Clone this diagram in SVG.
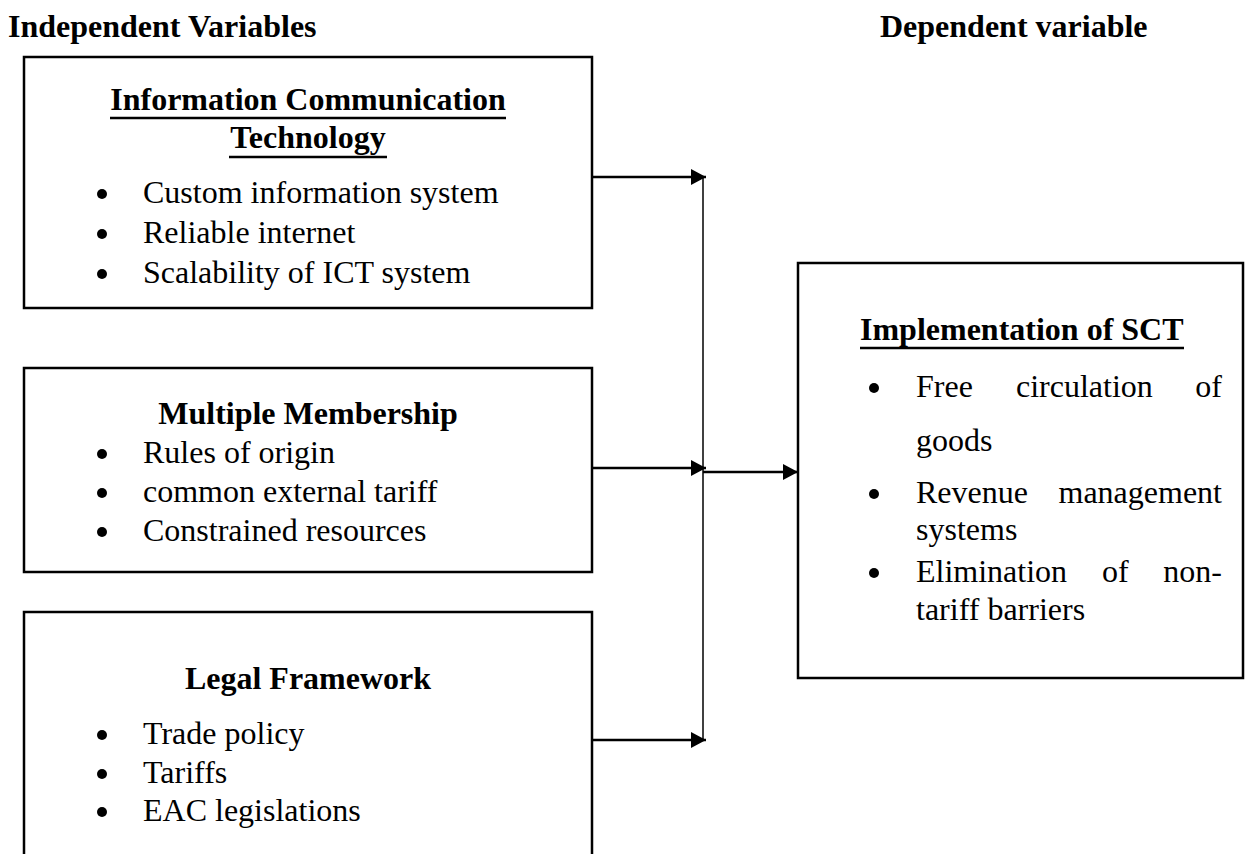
<svg xmlns="http://www.w3.org/2000/svg" width="1246" height="854" viewBox="0 0 1246 854">
<style>
.box{fill:none;stroke:#000;stroke-width:2.5}
.t{font-family:"Liberation Serif","Times New Roman",serif;font-size:32px;fill:#000}
.b{font-weight:bold}
.ul{stroke:#000;stroke-width:2.5}
.dot{fill:#000}
.con{stroke:#000;stroke-width:2.5;fill:none}
.vert{stroke:#000;stroke-width:1.5;fill:none}
</style>
<defs>
<marker id="ah" markerUnits="userSpaceOnUse" markerWidth="18" markerHeight="18" refX="15" refY="8" orient="auto">
<path d="M0,0 L15,8 L0,16 z" fill="#000"/>
</marker>
</defs>
<rect width="1246" height="854" fill="#fff"/>
<g id="titles">
<text class="t b" x="8" y="37">Independent Variables</text>
<text class="t b" x="880" y="37">Dependent variable</text>
</g>
<g id="ict">
<rect class="box" x="24" y="57" width="568" height="251"/>
<text class="t b" x="308" y="110" text-anchor="middle">Information Communication</text>
<line class="ul" x1="110" y1="118" x2="506" y2="118"/>
<text class="t b" x="308" y="148" text-anchor="middle">Technology</text>
<line class="ul" x1="229" y1="157" x2="387" y2="157"/>
<circle class="dot" cx="102" cy="194" r="5"/>
<circle class="dot" cx="102" cy="234" r="5"/>
<circle class="dot" cx="102" cy="274" r="5"/>
<text class="t" x="143" y="203">Custom information system</text>
<text class="t" x="143" y="243">Reliable internet</text>
<text class="t" x="143" y="283">Scalability of ICT system</text>
</g>
<g id="membership">
<rect class="box" x="24" y="368" width="568" height="204"/>
<text class="t b" x="308" y="424" text-anchor="middle">Multiple Membership</text>
<circle class="dot" cx="102" cy="454" r="5"/>
<circle class="dot" cx="102" cy="493" r="5"/>
<circle class="dot" cx="102" cy="532" r="5"/>
<text class="t" x="143" y="463">Rules of origin</text>
<text class="t" x="143" y="502">common external tariff</text>
<text class="t" x="143" y="541">Constrained resources</text>
</g>
<g id="legal">
<path class="box" d="M24,860 V612 H592 V860"/>
<text class="t b" x="308" y="689" text-anchor="middle">Legal Framework</text>
<circle class="dot" cx="102" cy="735" r="5"/>
<circle class="dot" cx="102" cy="774" r="5"/>
<circle class="dot" cx="102" cy="812" r="5"/>
<text class="t" x="143" y="744">Trade policy</text>
<text class="t" x="143" y="783">Tariffs</text>
<text class="t" x="143" y="821">EAC legislations</text>
</g>
<g id="sct">
<rect class="box" x="798" y="263" width="445" height="415"/>
<text class="t b" x="860" y="340">Implementation of SCT</text>
<line class="ul" x1="860" y1="348" x2="1184" y2="348"/>
<circle class="dot" cx="874" cy="388" r="5"/>
<circle class="dot" cx="874" cy="494" r="5"/>
<circle class="dot" cx="874" cy="573" r="5"/>
<text class="t" x="916" y="397">Free</text>
<text class="t" x="1016" y="397">circulation</text>
<text class="t" x="1222" y="397" text-anchor="end">of</text>
<text class="t" x="916" y="451">goods</text>
<text class="t" x="916" y="503">Revenue</text>
<text class="t" x="1222" y="503" text-anchor="end">management</text>
<text class="t" x="916" y="540">systems</text>
<text class="t" x="916" y="582">Elimination</text>
<text class="t" x="1102" y="582">of</text>
<text class="t" x="1222" y="582" text-anchor="end">non-</text>
<text class="t" x="916" y="620">tariff barriers</text>
</g>
<g id="connectors">
<line class="vert" x1="703" y1="177" x2="703" y2="740"/>
<line class="con" x1="592" y1="177" x2="706" y2="177" marker-end="url(#ah)"/>
<line class="con" x1="592" y1="468" x2="706" y2="468" marker-end="url(#ah)"/>
<line class="con" x1="592" y1="740" x2="706" y2="740" marker-end="url(#ah)"/>
<line class="con" x1="703" y1="472" x2="798" y2="472" marker-end="url(#ah)"/>
</g>
</svg>
